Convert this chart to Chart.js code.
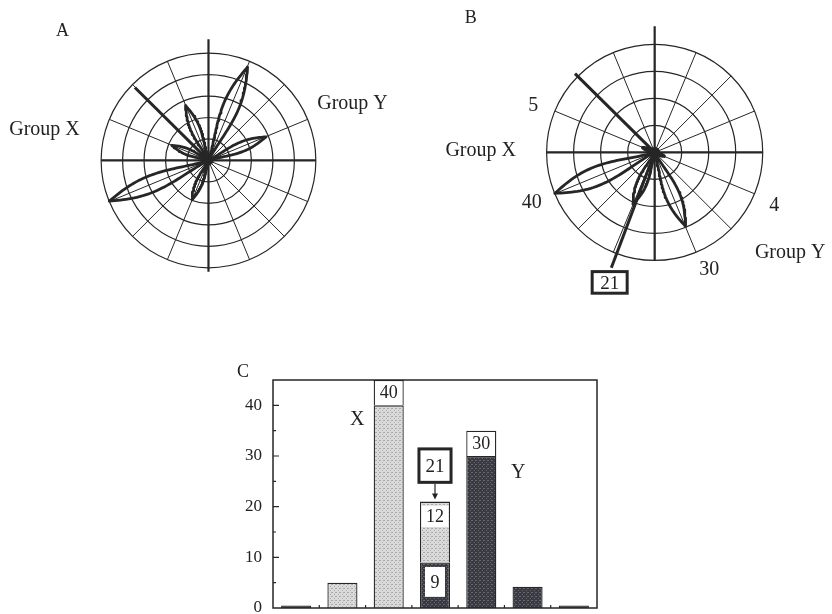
<!DOCTYPE html>
<html>
<head>
<meta charset="utf-8">
<script src="https://cdn.jsdelivr.net/npm/chart.js@4/dist/chart.umd.min.js"></script>
<style>
  html, body { margin: 0; padding: 0; background: #fff; overflow: hidden; }
  canvas { position: absolute; }
</style>
</head>
<body>
<canvas id="chartA" width="416" height="300" style="left:0;top:0"></canvas>
<canvas id="chartB" width="416" height="300" style="left:416px;top:0"></canvas>
<canvas id="chartC" width="832" height="320" style="left:0;top:300px"></canvas>
<script>
// panel A: rose diagram, 5 rings
const ringsA = [1, 2, 3, 4, 5];
const petalAnglesA = [22.5, 67.5, 112.5, 157.5, 202.5, 247.5];
const petalLengthsA = [2.9, 4.75, 2.8, 1.85, 5.0, 2.0];
const rayAnglesA = [135];
const rayLengthsA = [4.85];

// panel B: rose diagram, 4 rings (0-40)
const ringsB = [10, 20, 30, 40];
const petalAnglesB = [157.5, 202.5, 247.5, 292.5, 337.5];
const petalValuesB = [5, 40, 21, 30, 4];
const rayAnglesB = [135, 249.6];     // plain ray + leader to the "21" box
const rayLengthsB = [41.7, 46];

// panel C: stacked bars
const categories = ['1', '2', '3', '4', '5', '6', '7'];
const groupYValues = [0.5, 0, 0, 9, 30, 4.2, 0.5];
const groupXValues = [0, 5, 40, 12, 0, 0, 0];
const capValues = [0, 0, 5, 0, 5, 0, 0];
const capLabels = ['', '', '40', '', '30', '', ''];
const yTickValues = [0, 10, 20, 30, 40];

const FONT = '"Liberation Serif", "DejaVu Serif", serif';
const INK = '#262626';

function toXY(angle, r) {
  const a = angle * Math.PI / 180;
  return { x: r * Math.cos(a), y: r * Math.sin(a) };
}

// lens shaped petal from the centre out to len along angle
function petal(angle, len, half) {
  const a = angle * Math.PI / 180;
  const ux = Math.cos(a), uy = Math.sin(a);
  const side = [];
  const n = 40;
  for (let i = 0; i <= n; i++) {
    const t = i / n;
    const w = half * len * Math.sin(Math.PI * Math.pow(t, 1.3));
    side.push([t * len, w]);
  }
  const pts = side.map(([s, w]) => ({ x: ux * s - uy * w, y: uy * s + ux * w }));
  for (let i = side.length - 1; i >= 0; i--) {
    const [s, w] = side[i];
    pts.push({ x: ux * s + uy * w, y: uy * s - ux * w });
  }
  return pts;
}

const polarGrid = {
  id: 'polarGrid',
  beforeDatasetsDraw(chart, args, opts) {
    const { ctx, scales: { x, y } } = chart;
    const cx = x.getPixelForValue(0), cy = y.getPixelForValue(0);
    const ppu = x.getPixelForValue(1) - cx;
    const R = opts.rings[opts.rings.length - 1] * ppu;
    ctx.save();
    ctx.strokeStyle = INK;
    ctx.lineWidth = 1.2;
    opts.rings.forEach(r => {
      ctx.beginPath();
      ctx.arc(cx, cy, r * ppu, 0, Math.PI * 2);
      ctx.stroke();
    });
    ctx.lineWidth = 1;
    for (let k = 0; k < 16; k++) {
      const a = k * Math.PI / 8;
      ctx.beginPath();
      ctx.moveTo(cx, cy);
      ctx.lineTo(cx + R * Math.cos(a), cy - R * Math.sin(a));
      ctx.stroke();
    }
    ctx.lineWidth = 2.2;
    ctx.beginPath();
    ctx.moveTo(cx - R, cy); ctx.lineTo(cx + R, cy);
    ctx.moveTo(cx, cy - opts.axisUp * ppu); ctx.lineTo(cx, cy + opts.axisDown * ppu);
    ctx.stroke();
    ctx.restore();
  },
  afterDraw(chart, args, opts) {
    const { ctx, scales: { x, y } } = chart;
    const cx = x.getPixelForValue(0), cy = y.getPixelForValue(0);
    ctx.save();
    ctx.fillStyle = '#222';
    ctx.textAlign = 'center';
    ctx.textBaseline = 'alphabetic';
    opts.labels.forEach(l => {
      ctx.font = (l.size || 20) + 'px ' + FONT;
      if (l.box) {
        ctx.fillStyle = '#fff';
        ctx.fillRect(cx + l.dx - 17.5, cy + l.dy - 17.3, 35, 21.6);
        ctx.strokeStyle = INK;
        ctx.lineWidth = 3;
        ctx.strokeRect(cx + l.dx - 17.5, cy + l.dy - 17.3, 35, 21.6);
        ctx.fillStyle = '#222';
      }
      ctx.fillText(l.text, cx + l.dx, cy + l.dy);
    });
    ctx.restore();
  }
};

function polarChart(id, cfg) {
  const canvas = document.getElementById(id);
  const W = canvas.width, H = canvas.height;
  const ppu = cfg.radiusPx / cfg.rings[cfg.rings.length - 1];
  const datasets = [];
  cfg.petalAngles.forEach((ang, i) => datasets.push({
    data: petal(ang, cfg.petalLengths[i], cfg.petalHalf),
    showLine: true, borderColor: INK, borderWidth: 2.8, borderJoinStyle: 'round',
    pointRadius: 0, fill: false, tension: 0
  }));
  cfg.rayAngles.forEach((ang, i) => datasets.push({
    data: [{ x: 0, y: 0 }, toXY(ang, cfg.rayLengths[i])],
    showLine: true, borderColor: INK, borderWidth: 3, pointRadius: 0
  }));
  datasets.push({ data: [{ x: 0, y: 0 }], pointRadius: cfg.hub, backgroundColor: INK, borderWidth: 0 });
  return new Chart(canvas, {
    type: 'scatter',
    data: { datasets },
    options: {
      responsive: false, animation: false, events: [],
      layout: { padding: 0 },
      scales: {
        x: { type: 'linear', display: false, min: -cfg.cx / ppu, max: (W - cfg.cx) / ppu },
        y: { type: 'linear', display: false, min: -(H - cfg.cy) / ppu, max: cfg.cy / ppu }
      },
      plugins: {
        legend: { display: false }, tooltip: { enabled: false },
        polarGrid: { rings: cfg.rings, axisUp: cfg.axisUp, axisDown: cfg.axisDown, labels: cfg.labels }
      }
    },
    plugins: [polarGrid]
  });
}

polarChart('chartA', {
  cx: 208.5, cy: 160.8, radiusPx: 110, rings: ringsA,
  petalAngles: petalAnglesA, petalLengths: petalLengthsA, petalHalf: 0.078,
  rayAngles: rayAnglesA, rayLengths: rayLengthsA, hub: 5,
  axisUp: 5.64, axisDown: 5.18,
  labels: [
    { text: 'A', dx: -146, dy: -124, size: 18 },
    { text: 'Group X', dx: -164, dy: -25 },
    { text: 'Group Y', dx: 144, dy: -51 }
  ]
});

polarChart('chartB', {
  cx: 239.5, cy: 152.5, radiusPx: 111, rings: ringsB,
  petalAngles: petalAnglesB, petalLengths: petalValuesB, petalHalf: 0.088,
  rayAngles: rayAnglesB, rayLengths: rayLengthsB, hub: 5.5,
  axisUp: 46.7, axisDown: 40,
  labels: [
    { text: 'B', dx: -184, dy: -129, size: 18 },
    { text: '5', dx: -121.5, dy: -41 },
    { text: 'Group X', dx: -174, dy: 4 },
    { text: '40', dx: -123, dy: 56 },
    { text: '4', dx: 119.5, dy: 59 },
    { text: 'Group Y', dx: 135.5, dy: 105.5 },
    { text: '30', dx: 54.5, dy: 122.5 },
    { text: '21', dx: -45, dy: 136.5, box: true, size: 19 }
  ]
});

// stippled fills for the bars
const ctxC = document.getElementById('chartC').getContext('2d');
function stipple(base, dot) {
  const c = document.createElement('canvas');
  c.width = 4; c.height = 4;
  const g = c.getContext('2d');
  g.fillStyle = base; g.fillRect(0, 0, 4, 4);
  g.fillStyle = dot; g.fillRect(0, 0, 1, 1); g.fillRect(2, 2, 1, 1); g.fillRect(3, 0, 1, 1);
  return ctxC.createPattern(c, 'repeat');
}
const lightFill = stipple('#dadada', '#a9a9a9');
const darkFill = stipple('#3a3a42', '#66666e');

const barNotes = {
  id: 'barNotes',
  afterDatasetsDraw(chart) {
    const { ctx, chartArea: a, scales: { x, y } } = chart;
    ctx.save();
    ctx.strokeStyle = INK;
    ctx.lineWidth = 1.5;
    ctx.strokeRect(a.left, a.top, a.right - a.left, a.bottom - a.top);
    ctx.lineWidth = 1.2;
    ctx.beginPath();
    for (let v = 5; v < 45; v += 5) {
      const py = y.getPixelForValue(v);
      ctx.moveTo(a.left, py); ctx.lineTo(a.left + (v % 10 === 0 ? 6 : 3), py);
    }
    for (let i = 0; i < categories.length - 1; i++) {
      const px = x.getPixelForValue(i + 0.5);
      ctx.moveTo(px, a.bottom); ctx.lineTo(px, a.bottom - 3);
    }
    ctx.stroke();

    ctx.fillStyle = '#222';
    ctx.textAlign = 'center';
    ctx.textBaseline = 'middle';
    ctx.font = '18px ' + FONT;
    // value caps on top of bars
    const capMeta = chart.getDatasetMeta(2);
    capLabels.forEach((t, i) => {
      if (!t) return;
      const el = capMeta.data[i];
      ctx.fillText(t, el.x, (el.y + el.base) / 2 + 1);
    });

    // split bar: inner boxes with the two parts
    const idx = groupXValues.findIndex((v, i) => v > 0 && groupYValues[i] > 0);
    const el = chart.getDatasetMeta(1).data[idx];
    const bx = el.x, hw = el.width / 2;
    const top = groupYValues[idx] + groupXValues[idx];
    let y1 = y.getPixelForValue(top - 0.8), y2 = y.getPixelForValue(top - 5);
    ctx.fillStyle = '#fff';
    ctx.fillRect(bx - hw + 1.5, y1, 2 * hw - 3, y2 - y1);
    ctx.fillStyle = '#222';
    ctx.fillText(String(groupXValues[idx]), bx, (y1 + y2) / 2 + 1);

    y1 = y.getPixelForValue(groupYValues[idx] - 0.9); y2 = y.getPixelForValue(2.2);
    ctx.fillStyle = '#fff';
    ctx.fillRect(bx - 10, y1, 20, y2 - y1);
    ctx.fillStyle = '#222';
    ctx.fillText(String(groupYValues[idx]), bx, (y1 + y2) / 2 + 1);

    // total box with arrow
    y1 = y.getPixelForValue(31.4); y2 = y.getPixelForValue(24.8);
    ctx.fillStyle = '#fff';
    ctx.fillRect(bx - hw - 1, y1, 2 * hw + 2, y2 - y1);
    ctx.lineWidth = 3;
    ctx.strokeRect(bx - hw - 1, y1, 2 * hw + 2, y2 - y1);
    ctx.fillStyle = '#222';
    ctx.font = '19px ' + FONT;
    ctx.fillText(String(top), bx, (y1 + y2) / 2 + 1);
    const yTip = y.getPixelForValue(top) - 2;
    ctx.lineWidth = 1.2;
    ctx.beginPath();
    ctx.moveTo(bx, y2 + 1.5); ctx.lineTo(bx, yTip - 3);
    ctx.stroke();
    ctx.beginPath();
    ctx.moveTo(bx - 3, yTip - 6); ctx.lineTo(bx + 3, yTip - 6); ctx.lineTo(bx, yTip);
    ctx.closePath(); ctx.fill();

    // group letters
    ctx.font = '20px ' + FONT;
    ctx.textBaseline = 'alphabetic';
    ctx.fillText('X', x.getPixelForValue(1.32), y.getPixelForValue(36.2));
    ctx.fillText('Y', x.getPixelForValue(4.8), y.getPixelForValue(25.7));
    ctx.font = '18px ' + FONT;
    ctx.fillText('C', a.left - 30, a.top - 3);
    ctx.restore();
  }
};

new Chart(ctxC, {
  type: 'bar',
  data: {
    labels: categories,
    datasets: [
      { data: groupYValues, backgroundColor: darkFill, borderColor: INK, borderWidth: 1.3 },
      { data: groupXValues, backgroundColor: lightFill, borderColor: INK, borderWidth: 1.3 },
      { data: capValues, backgroundColor: '#fff', borderColor: INK, borderWidth: 1.3 }
    ]
  },
  options: {
    responsive: false, animation: false, events: [],
    layout: { padding: { left: 233, right: 235, top: 80, bottom: 12 } },
    datasets: { bar: { categoryPercentage: 1, barPercentage: 0.65 } },
    scales: {
      x: { stacked: true, display: false },
      y: {
        stacked: true, min: 0, max: 45,
        afterBuildTicks(s) { s.ticks = yTickValues.map(v => ({ value: v })); },
        afterFit(s) { s.width = 40; s.paddingTop = 0; s.paddingBottom = 0; },
        ticks: { font: { family: FONT, size: 17 }, color: '#222', padding: 11 },
        grid: { display: false, drawTicks: false },
        border: { display: false }
      }
    },
    plugins: { legend: { display: false }, tooltip: { enabled: false } }
  },
  plugins: [barNotes]
});
</script>
</body>
</html>
